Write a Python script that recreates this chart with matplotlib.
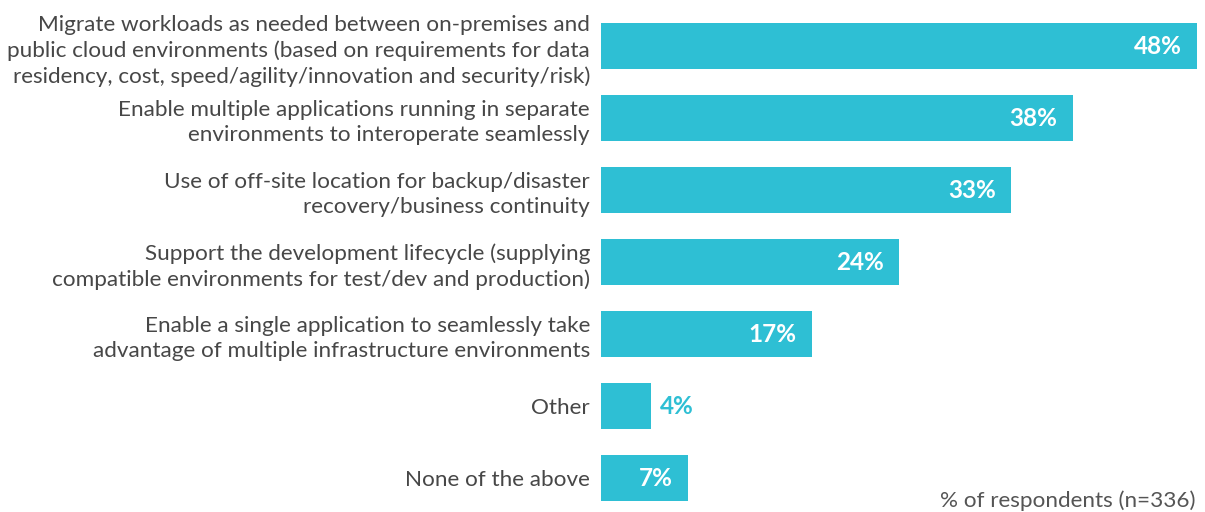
import matplotlib
matplotlib.use("Agg")
import matplotlib.pyplot as plt

categories = [
    "Migrate workloads as needed between on-premises and\npublic cloud environments (based on requirements for data\nresidency, cost, speed/agility/innovation and security/risk)",
    "Enable multiple applications running in separate\nenvironments to interoperate seamlessly",
    "Use of off-site location for backup/disaster\nrecovery/business continuity",
    "Support the development lifecycle (supplying\ncompatible environments for test/dev and production)",
    "Enable a single application to seamlessly take\nadvantage of multiple infrastructure environments",
    "Other",
    "None of the above",
]
values = [48, 38, 33, 24, 17, 4, 7]
value_labels = ["48%", "38%", "33%", "24%", "17%", "4%", "7%"]
footnote = "% of respondents (n=336)"

BAR = "#2EBFD4"
TXT = "#474747"
plt.rcParams['font.family'] = ['Lato', 'DejaVu Sans']

W, H = 1205, 512
fig = plt.figure(figsize=(W / 100, H / 100), dpi=100)
ax_left, ax_right = 601, 1197
ax_top, ax_bot = 20, 505
ax = fig.add_axes([ax_left / W, (H - ax_bot) / H, (ax_right - ax_left) / W, (ax_bot - ax_top) / H])

ypos = list(range(len(categories)))
ax.barh(ypos, values, height=0.63, color=BAR, edgecolor="none")
ax.set_xlim(0, max(values))
ax.set_ylim((ax_bot - 46) / 72, -(46 - ax_top) / 72)

ax.set_yticks(ypos)
ax.set_yticklabels(categories, fontsize=16.2, color=TXT, linespacing=1.33)
ax.tick_params(axis="y", length=0, pad=8)
ax.set_xticks([])
for s in ax.spines.values():
    s.set_visible(False)

for y, v, lab in zip(ypos, values, value_labels):
    if v >= 6:
        ax.annotate(lab, (v, y), xytext=(-11, 0), textcoords="offset points",
                    ha="right", va="center", fontsize=17.5, fontweight="bold", color="white")
    else:
        ax.annotate(lab, (v, y), xytext=(7, 0), textcoords="offset points",
                    ha="left", va="center", fontsize=17.5, fontweight="bold", color=BAR)

fig.text(1195 / W, 1 - 501 / H, footnote, ha="right", va="center", fontsize=16.2,
         color="#555555")

fig.savefig("out.png", dpi=100, facecolor="white")
